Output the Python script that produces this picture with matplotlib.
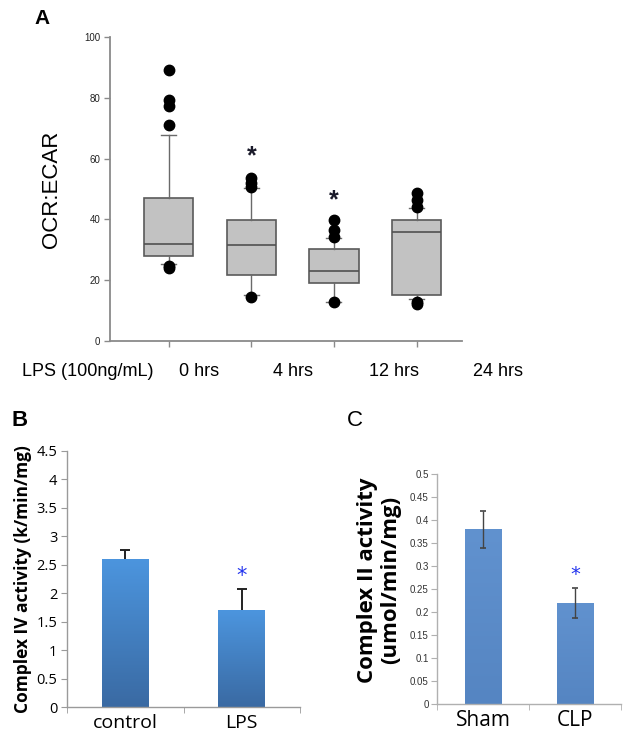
import numpy as np
import matplotlib
matplotlib.use("Agg")
from matplotlib import pyplot as plt

# panel A - OCR:ECAR box plots
a_groups = ['0 hrs', '4 hrs', '12 hrs', '24 hrs']
a_q1 = [28.0, 21.7, 19.0, 15.1]
a_med = [31.8, 31.7, 23.1, 36.0]
a_q3 = [47.1, 39.8, 30.2, 39.8]
a_lo = [25.2, 15.0, 12.9, 13.7]
a_hi = [67.8, 50.3, 33.9, 43.6]
a_fliers = [[89.1, 79.3, 77.3, 71.1, 24.7, 23.9],
            [53.5, 52.0, 50.6, 14.6],
            [39.8, 36.5, 34.3, 12.9],
            [48.8, 46.4, 44.2, 12.9, 12.2]]
a_star = [None, 60.6, 46.4, None]

# panel B - complex IV
b_groups = ['control', 'LPS']
b_vals = [2.6, 1.7]
b_err = [0.16, 0.37]
b_star = [None, 2.3]

# panel C - complex II
c_groups = ['Sham', 'CLP']
c_vals = [0.38, 0.22]
c_err = [0.04, 0.033]
c_star = [None, 0.281]

fig = plt.figure(figsize=(6.24, 7.48), dpi=100)

# ---------- A ----------
axA = fig.add_axes([0.1763, 0.5441, 0.5641, 0.4064])
stats = []
for i in range(len(a_groups)):
    stats.append(dict(med=a_med[i], q1=a_q1[i], q3=a_q3[i],
                      whislo=a_lo[i], whishi=a_hi[i], fliers=a_fliers[i]))
pos = np.arange(1, len(a_groups) + 1)
axA.bxp(stats, positions=pos, widths=0.6, capwidths=0.18, patch_artist=True,
        boxprops=dict(facecolor='#c2c2c2', edgecolor='#5a5a5a', linewidth=1.2),
        medianprops=dict(color='#505050', linewidth=1.2),
        whiskerprops=dict(color='#6a6a6a', linewidth=1.0),
        capprops=dict(color='#6a6a6a', linewidth=1.0),
        flierprops=dict(marker='o', markerfacecolor='black', markeredgecolor='black',
                        markersize=7.5))
for p, s in zip(pos, a_star):
    if s is not None:
        axA.text(p, s, '*', ha='center', va='center', fontsize=18, fontweight='bold',
                 color='#1a1a2a', family='Liberation Sans')
axA.set_xlim(0.29, 4.55)
axA.set_ylim(0, 100)
axA.set_yticks([0, 20, 40, 60, 80, 100])
axA.set_xticks(pos)
axA.set_xticklabels([])
for s in ['top', 'right']:
    axA.spines[s].set_visible(False)
for s in ['left', 'bottom']:
    axA.spines[s].set_color('#8a8a8a')
    axA.spines[s].set_linewidth(1.3)
axA.tick_params(axis='both', colors='#8a8a8a', length=4, width=1.0)
axA.tick_params(axis='y', labelsize=7, labelcolor='#222222', pad=3)
for t in axA.get_yticklabels():
    t.set_family('Liberation Sans')
axA.set_ylabel('OCR:ECAR', fontsize=16, family='Liberation Sans', labelpad=16)
fig.text(0.067, 0.975, 'A', fontsize=15, fontweight='bold', family='Liberation Sans',
         ha='center', va='center')
fig.text(0.035, 0.504, 'LPS (100ng/mL)', fontsize=13, family='Liberation Sans',
         ha='left', va='center')
for xp, g in zip([199, 293, 394, 498], a_groups):
    fig.text(xp / 624, 0.504, g, fontsize=13, family='Liberation Sans',
             ha='center', va='center')


def gradient_bars(ax, bars, top, bottom):
    cmap = matplotlib.colors.LinearSegmentedColormap.from_list('g', [bottom, top])
    grad = np.linspace(0, 1, 100).reshape(-1, 1)
    for b in bars:
        x, w, h = b.get_x(), b.get_width(), b.get_height()
        im = ax.imshow(grad, extent=[x, x + w, 0, h], origin='lower', cmap=cmap,
                       aspect='auto', zorder=2)
        im.set_clip_path(b)
        b.set_facecolor('none')


def style_bar_axes(ax, color):
    for s in ['top', 'right']:
        ax.spines[s].set_visible(False)
    for s in ['left', 'bottom']:
        ax.spines[s].set_color(color)
        ax.spines[s].set_linewidth(1.0)
    ax.set_xticks([0.5, 1.5, 2.5], minor=True)
    ax.tick_params(axis='x', which='major', length=0)
    ax.tick_params(axis='x', which='minor', length=4, color=color)
    ax.tick_params(axis='y', length=4, color=color)


# ---------- B ----------
axB = fig.add_axes([0.1074, 0.0544, 0.3734, 0.3427])
xb = np.arange(1, len(b_groups) + 1)
barsB = axB.bar(xb, b_vals, width=0.4, color='#4a8fd6', edgecolor='none', zorder=2)
gradient_bars(axB, barsB, '#4c95de', '#3a6aa3')
eb = axB.errorbar(xb, b_vals, yerr=[np.zeros(len(b_err)), b_err], fmt='none',
                  ecolor='#222222', elinewidth=1.4, capsize=3.5, capthick=1.4, zorder=3)
eb[1][0].set_visible(False)  # hide lower caps (one-sided bars)
for x, s in zip(xb, b_star):
    if s is not None:
        axB.text(x, s, '*', ha='center', va='center', fontsize=15, color='#2233ee')
axB.set_xlim(0.5, 2.5)
axB.set_ylim(0, 4.5)
axB.set_yticks(np.arange(0, 4.6, 0.5))
axB.set_yticklabels(['0', '0.5', '1', '1.5', '2', '2.5', '3', '3.5', '4', '4.5'])
axB.set_xticks(xb)
axB.set_xticklabels(b_groups, fontsize=14, family='Open Sans')
style_bar_axes(axB, '#9a9a9a')
axB.tick_params(axis='y', labelsize=10.5, pad=3)
axB.tick_params(axis='x', which='major', pad=5)
for t in axB.get_yticklabels():
    t.set_family('Open Sans')
axB.set_ylabel('Complex IV activity (k/min/mg)', fontsize=12.5, fontweight='bold',
               family='Open Sans', labelpad=3)
fig.text(0.032, 0.4385, 'B', fontsize=16, fontweight='bold', family='Liberation Sans',
         ha='center', va='center')

# ---------- C ----------
axC = fig.add_axes([0.7003, 0.0584, 0.2949, 0.3079])
xc = np.arange(1, len(c_groups) + 1)
barsC = axC.bar(xc, c_vals, width=0.4, color='#5b8dca', edgecolor='none', zorder=2)
gradient_bars(axC, barsC, '#6192cf', '#5585c2')
axC.errorbar(xc, c_vals, yerr=c_err, fmt='none', ecolor='#444444', elinewidth=1.0,
             capsize=2.5, capthick=1.2, zorder=3)
for x, s in zip(xc, c_star):
    if s is not None:
        axC.text(x, s, '*', ha='center', va='center', fontsize=14, color='#2233ee')
axC.set_xlim(0.5, 2.5)
axC.set_ylim(0, 0.5)
axC.set_yticks(np.arange(0, 0.51, 0.05))
axC.set_yticklabels(['0', '0.05', '0.1', '0.15', '0.2', '0.25', '0.3', '0.35', '0.4',
                     '0.45', '0.5'])
axC.set_xticks(xc)
axC.set_xticklabels(c_groups, fontsize=15, family='Open Sans')
style_bar_axes(axC, '#b0b0b0')
axC.tick_params(axis='y', labelsize=7, labelcolor='#333333', pad=2)
axC.tick_params(axis='x', which='major', pad=4)
for t in axC.get_yticklabels():
    t.set_family('Liberation Sans')
axC.set_ylabel('Complex II activity\n(umol/min/mg)', fontsize=16, fontweight='bold',
               family='Open Sans', linespacing=1.15)
axC.yaxis.set_label_coords(-0.195, 0.54)
fig.text(0.5685, 0.4385, 'C', fontsize=16, family='Liberation Sans',
         ha='center', va='center')

fig.savefig('out.png', dpi=100)
